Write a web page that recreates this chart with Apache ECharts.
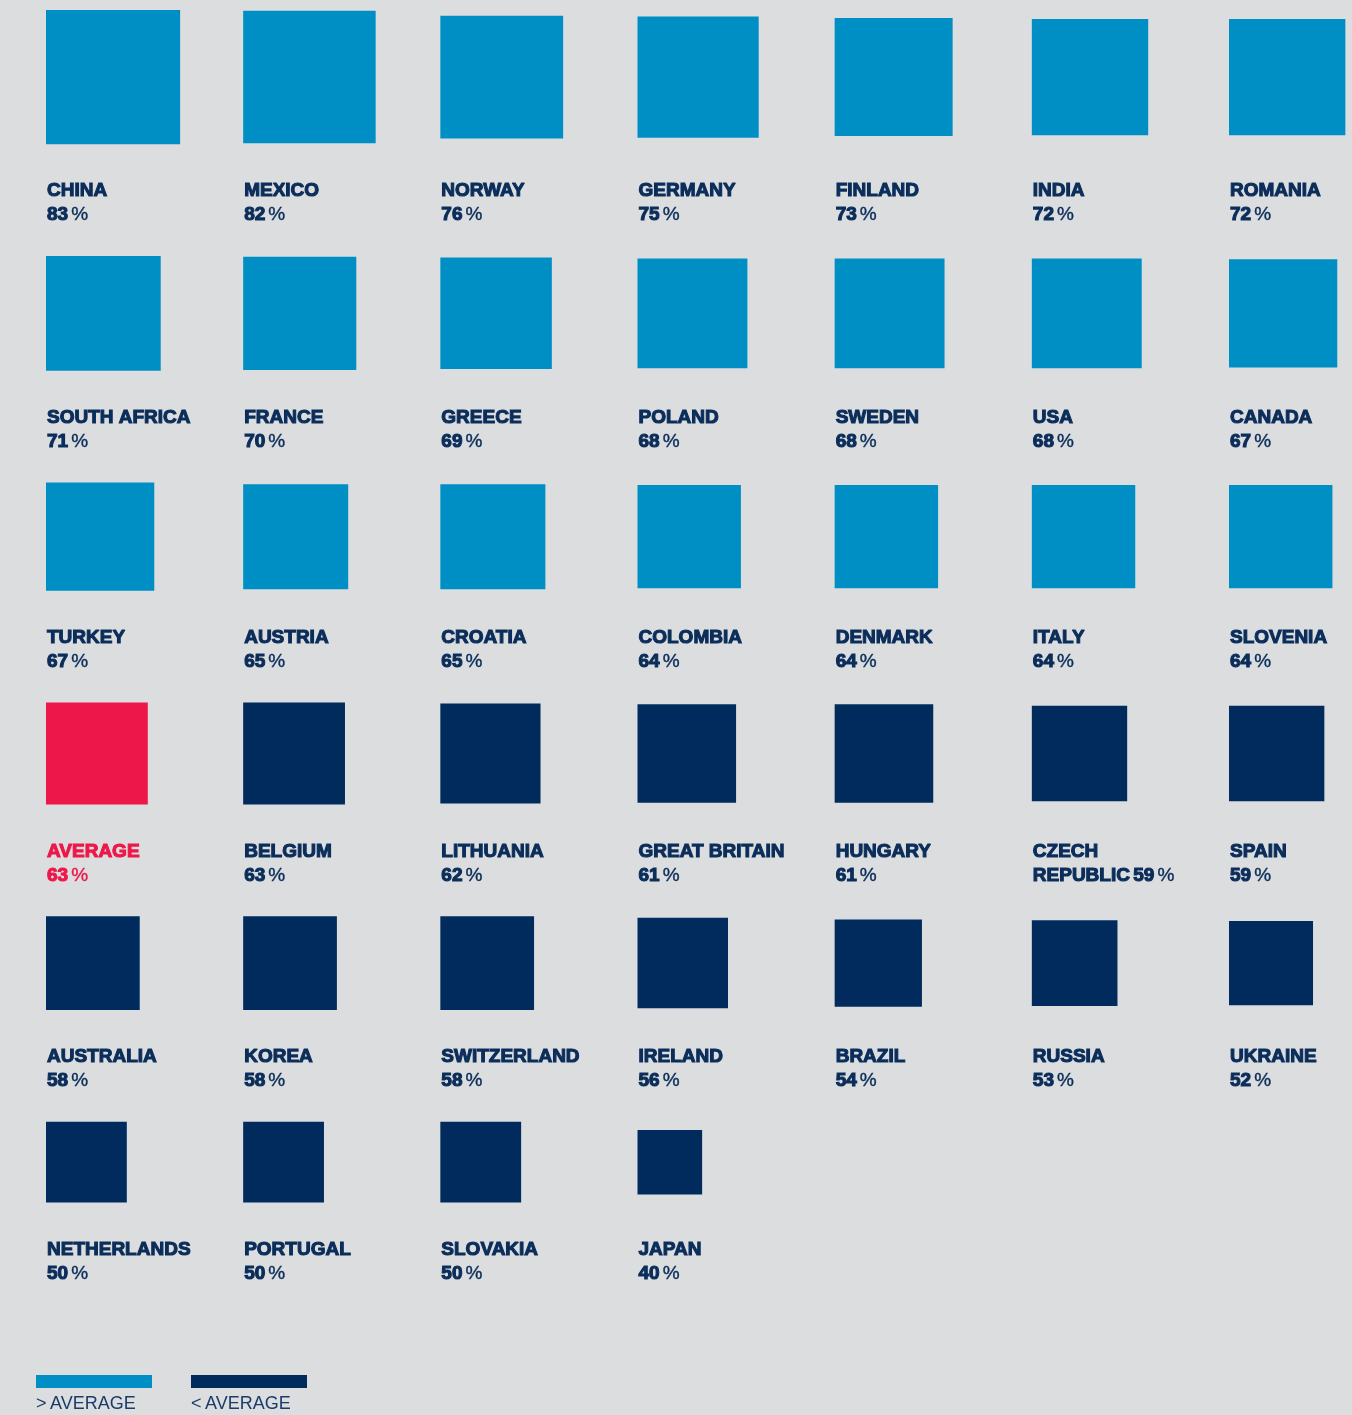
<!DOCTYPE html>
<html>
<head>
<meta charset="utf-8">
<script src="https://cdn.jsdelivr.net/npm/echarts@6/dist/echarts.min.js"></script>
<style>
  html, body { margin: 0; padding: 0; background: #dcdddf; }
  #chart { width: 1352px; height: 1415px; }
</style>
</head>
<body>
<div id="chart"></div>
<script>
// values, in display order (7 per row)
const countries = [
  'CHINA', 'MEXICO', 'NORWAY', 'GERMANY', 'FINLAND', 'INDIA', 'ROMANIA',
  'SOUTH AFRICA', 'FRANCE', 'GREECE', 'POLAND', 'SWEDEN', 'USA', 'CANADA',
  'TURKEY', 'AUSTRIA', 'CROATIA', 'COLOMBIA', 'DENMARK', 'ITALY', 'SLOVENIA',
  'AVERAGE', 'BELGIUM', 'LITHUANIA', 'GREAT BRITAIN', 'HUNGARY', 'CZECH REPUBLIC', 'SPAIN',
  'AUSTRALIA', 'KOREA', 'SWITZERLAND', 'IRELAND', 'BRAZIL', 'RUSSIA', 'UKRAINE',
  'NETHERLANDS', 'PORTUGAL', 'SLOVAKIA', 'JAPAN'
];
const shares = [
  83, 82, 76, 75, 73, 72, 72,
  71, 70, 69, 68, 68, 68, 67,
  67, 65, 65, 64, 64, 64, 64,
  63, 63, 62, 61, 61, 59, 59,
  58, 58, 58, 56, 54, 53, 52,
  50, 50, 50, 40
];
const averageName = 'AVERAGE';
const averageShare = 63;
const legendLabels = ['>\u2009AVERAGE', '<\u2009AVERAGE'];

const COLORS = { above: '#008fc5', below: '#002b5c', average: '#ed174a', text: '#0b2d5a', legendText: '#1b3b69' };
const perRow = 7;
const pxPerPoint = 1.616;   // square side per percentage point
const rowGap = 69.2;        // points of space under each row for the labels
const labelGap = 35;        // px from row bottom to label box
const font = '"Liberation Sans", Arial, sans-serif';

// lay the rows out: each row is as tall as its biggest square
const rowCount = Math.ceil(shares.length / perRow);
const rowMax = [];
for (let r = 0; r < rowCount; r++) {
  rowMax.push(Math.max(...shares.slice(r * perRow, (r + 1) * perRow)));
}
const rowTop = [0];
for (let r = 1; r < rowCount; r++) rowTop.push(rowTop[r - 1] + rowMax[r - 1] + rowGap);

const cells = shares.map((v, i) => {
  const r = Math.floor(i / perRow);
  return [i % perRow, rowTop[r] + rowMax[r] / 2, v, rowTop[r] + rowMax[r]];
});

function colorOf(i) {
  if (countries[i] === averageName) return COLORS.average;
  return shares[i] > averageShare ? COLORS.above : COLORS.below;
}

function labelText(i) {
  const name = countries[i];
  const pct = '{num|' + shares[i] + '}{pct|%}';
  if (name.length > 13) {
    const k = name.indexOf(' ');
    return '{name|' + name.slice(0, k) + '}\n{name|' + name.slice(k + 1) + '} ' + pct;
  }
  return '{name|' + name + '}\n' + pct;
}

function richFor(color) {
  const base = { fontFamily: font, fontSize: 19, lineHeight: 24, fill: color, stroke: color, lineWidth: 1.1 };
  return {
    name: Object.assign({ fontWeight: 'bold' }, base),
    num: Object.assign({ fontWeight: 'bold' }, base),
    pct: Object.assign({ fontWeight: 'normal', padding: [0, 0, 0, 3] }, base, { lineWidth: 0.4 })
  };
}

const gridTop = 10, gridBottom = 0, gridHeight = 1415 - gridTop - gridBottom;

const chart = echarts.init(document.getElementById('chart'), null, { renderer: 'canvas' });
chart.setOption({
  backgroundColor: '#dcdddf',
  animation: false,
  grid: { left: 46, right: 123, top: gridTop, bottom: gridBottom },
  xAxis: { type: 'value', min: 0, max: perRow - 1, show: false },
  yAxis: { type: 'value', inverse: true, min: 0, max: gridHeight / pxPerPoint, show: false },
  series: [{
    type: 'custom',
    data: cells,
    clip: false,
    renderItem: function (params, api) {
      const i = params.dataIndex;
      const p = api.coord([api.value(0), api.value(1)]);
      const side = Math.abs(api.size([0, api.value(2)])[1]);
      const bottom = api.coord([api.value(0), api.value(3)])[1];
      const fill = colorOf(i);
      const textColor = countries[i] === averageName ? COLORS.average : COLORS.text;
      return {
        type: 'group',
        children: [
          { type: 'rect', shape: { x: p[0], y: p[1] - side / 2, width: side, height: side }, style: { fill: fill } },
          {
            type: 'text', x: p[0] + 1, y: bottom + labelGap,
            style: { text: labelText(i), rich: richFor(textColor), align: 'left', verticalAlign: 'top' }
          }
        ]
      };
    }
  }],
  graphic: [
    { type: 'rect', left: 36, top: 1375, shape: { width: 116, height: 13 }, style: { fill: COLORS.above } },
    { type: 'text', left: 36, top: 1395, style: { text: legendLabels[0], font: '18px ' + font, fill: COLORS.legendText } },
    { type: 'rect', left: 191, top: 1375, shape: { width: 116, height: 13 }, style: { fill: COLORS.below } },
    { type: 'text', left: 191, top: 1395, style: { text: legendLabels[1], font: '18px ' + font, fill: COLORS.legendText } }
  ]
});
</script>
</body>
</html>
